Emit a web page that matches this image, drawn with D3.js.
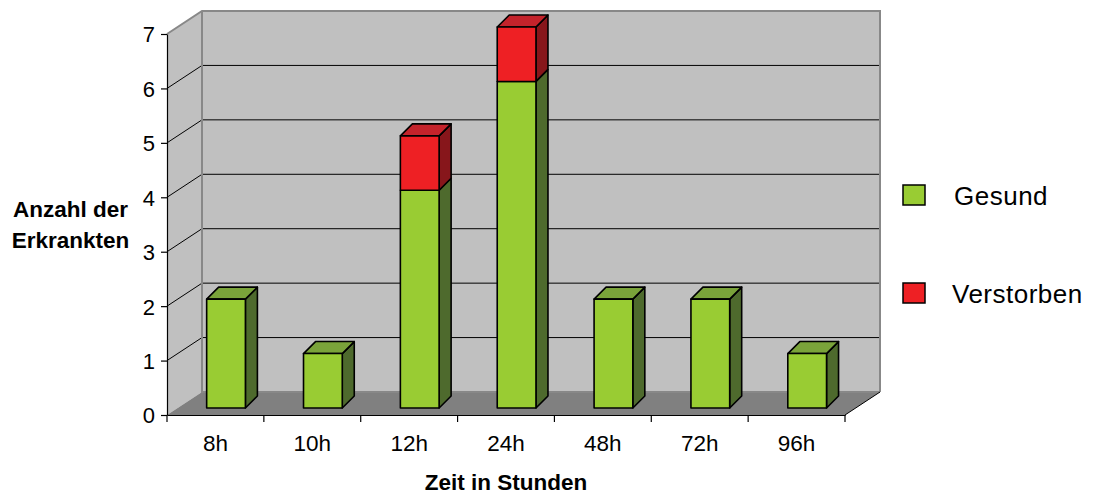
<!DOCTYPE html>
<html>
<head>
<meta charset="utf-8">
<script src="https://cdn.jsdelivr.net/npm/d3@7"></script>
<style>
  html, body { margin: 0; padding: 0; background: #ffffff; }
  svg { display: block; font-family: "Liberation Sans", Arial, sans-serif; }
</style>
</head>
<body>
<svg id="chart" width="1094" height="495"></svg>
<script>
// Categories (hours after onset) and stacked series values
const categories = ["8h", "10h", "12h", "24h", "48h", "72h", "96h"];
const gesund     = [2, 1, 4, 6, 2, 2, 1];
const verstorben = [0, 0, 1, 1, 0, 0, 0];
const yTicks     = [0, 1, 2, 3, 4, 5, 6, 7];
const seriesNames = ["Gesund", "Verstorben"];

const svg = d3.select("#chart");

// Front plane of the 3D box
const x = d3.scaleBand().domain(categories).range([167, 845]).paddingInner(0).paddingOuter(0);
const y = d3.scaleLinear().domain([0, 7]).range([415, 34]);

// Oblique depth of the whole box (back wall offset)
const depth = { dx: 35, dy: -23 };
// Plane where the bars stand, and thickness of each bar
const barPlane = { dx: 10.6, dy: -7 };
const barDepth = { dx: 12, dy: -12 };

const colors = {
  Gesund:     { front: "#99cc33", top: "#7aa33a", side: "#4e6a2d" },
  Verstorben: { front: "#ee2024", top: "#c4232b", side: "#87161b" }
};

const x0 = x.range()[0], x1 = x.range()[1];
const yTop = y(7), yBot = y(0);
const pts = a => a.map(p => p.join(",")).join(" ");

// Left side wall
svg.append("polygon")
  .attr("points", pts([[x0, yBot], [x0 + depth.dx, yBot + depth.dy], [x0 + depth.dx, yTop + depth.dy], [x0, yTop]]))
  .attr("fill", "#c0c0c0");
// Back wall
svg.append("rect")
  .attr("x", x0 + depth.dx).attr("y", yTop + depth.dy)
  .attr("width", x1 - x0).attr("height", yBot - yTop)
  .attr("fill", "#c0c0c0");
// Floor
svg.append("polygon")
  .attr("points", pts([[x0, yBot], [x0 + depth.dx, yBot + depth.dy], [x1 + depth.dx, yBot + depth.dy], [x1, yBot]]))
  .attr("fill", "#808080");

// Gridlines on the side and back walls
const grid = svg.append("g").attr("stroke", "#000").attr("stroke-width", 1);
yTicks.filter(v => v > 0 && v < 7).forEach(v => {
  grid.append("line")
    .attr("x1", x0).attr("y1", y(v))
    .attr("x2", x0 + depth.dx).attr("y2", y(v) + depth.dy);
  grid.append("line")
    .attr("x1", x0 + depth.dx).attr("y1", y(v) + depth.dy)
    .attr("x2", x1 + depth.dx).attr("y2", y(v) + depth.dy);
});

// Wall borders
const border = svg.append("g").attr("stroke", "#888").attr("stroke-width", 2).attr("fill", "none");
border.append("polyline")
  .attr("points", pts([[x0, yTop], [x0 + depth.dx, yTop + depth.dy], [x1 + depth.dx, yTop + depth.dy], [x1 + depth.dx, yBot + depth.dy]]));
border.append("polyline")
  .attr("points", pts([[x0 + depth.dx, yTop + depth.dy], [x0 + depth.dx, yBot + depth.dy], [x1 + depth.dx, yBot + depth.dy]]));
svg.append("line")
  .attr("x1", x1 + depth.dx).attr("y1", yBot + depth.dy)
  .attr("x2", x1).attr("y2", yBot)
  .attr("stroke", "#000").attr("stroke-width", 1);

// Stacked data
const rows = categories.map((c, i) => ({ cat: c, Gesund: gesund[i], Verstorben: verstorben[i] }));
const stack = d3.stack().keys(seriesNames)(rows);

const bw = x.bandwidth() * 0.4;
const bx = c => x(c) + barPlane.dx + (x.bandwidth() - bw) / 2;
const by = v => y(v) + barPlane.dy;

const bars = svg.append("g").attr("stroke", "#000").attr("stroke-width", 1.6).attr("stroke-linejoin", "round");
rows.forEach((r, i) => {
  const total = r.Gesund + r.Verstorben;
  stack.forEach(layer => {
    const seg = layer[i];
    if (seg[1] - seg[0] <= 0) return;
    const col = colors[layer.key];
    const left = bx(r.cat), right = left + bw;
    const yt = by(seg[1]), yb = by(seg[0]);
    // side face
    bars.append("polygon")
      .attr("points", pts([[right, yb], [right + barDepth.dx, yb + barDepth.dy], [right + barDepth.dx, yt + barDepth.dy], [right, yt]]))
      .attr("fill", col.side);
    // top face, only on the upper segment
    if (seg[1] === total) {
      bars.append("polygon")
        .attr("points", pts([[left, yt], [left + barDepth.dx, yt + barDepth.dy], [right + barDepth.dx, yt + barDepth.dy], [right, yt]]))
        .attr("fill", col.top);
    }
    // front face
    bars.append("rect")
      .attr("x", left).attr("y", yt)
      .attr("width", bw).attr("height", yb - yt)
      .attr("fill", col.front);
  });
});

// Y axis
const yAxis = svg.append("g")
  .attr("transform", `translate(${x0},0)`)
  .call(d3.axisLeft(y).tickValues(yTicks).tickFormat(d3.format("d")).tickSize(6).tickSizeOuter(0).tickPadding(6));
yAxis.select(".domain").attr("stroke", "#000").attr("stroke-width", 1.2);
yAxis.selectAll(".tick line").attr("stroke", "#000").attr("stroke-width", 1.2);
yAxis.selectAll(".tick text").attr("font-size", 22).attr("fill", "#000").attr("font-family", null).attr("dy", "0.36em");

// X axis with ticks between categories
const xAxis = svg.append("g")
  .attr("transform", `translate(0,${yBot})`)
  .call(d3.axisBottom(x).tickSize(0).tickPadding(20));
xAxis.select(".domain").attr("stroke", "#000").attr("stroke-width", 1.2);
xAxis.selectAll(".tick text").attr("font-size", 22.5).attr("fill", "#000").attr("font-family", null);
const bounds = categories.map(c => x(c)).concat([x1]);
xAxis.selectAll("line.sep").data(bounds).enter().append("line")
  .attr("class", "sep")
  .attr("x1", d => d).attr("x2", d => d)
  .attr("y1", 0).attr("y2", 7)
  .attr("stroke", "#000").attr("stroke-width", 1.2);

// Axis titles
svg.append("text")
  .attr("x", 506).attr("y", 490)
  .attr("text-anchor", "middle")
  .attr("font-size", 22.5).attr("font-weight", "bold")
  .text("Zeit in Stunden");
const yTitle = svg.append("text")
  .attr("text-anchor", "middle")
  .attr("font-size", 22.5).attr("font-weight", "bold");
yTitle.append("tspan").attr("x", 70.5).attr("y", 217).text("Anzahl der");
yTitle.append("tspan").attr("x", 70.5).attr("y", 248).text("Erkrankten");

// Legend
const legend = svg.append("g");
const legendY = [185, 283];
seriesNames.forEach((name, i) => {
  legend.append("rect")
    .attr("x", 903).attr("y", legendY[i])
    .attr("width", 22).attr("height", 20)
    .attr("fill", colors[name].front)
    .attr("stroke", "#000").attr("stroke-width", 1.5);
  legend.append("text")
    .attr("x", i === 0 ? 954 : 952).attr("y", legendY[i] + 20)
    .attr("font-size", 26)
    .attr("letter-spacing", 0.5)
    .text(name);
});
</script>
</body>
</html>
